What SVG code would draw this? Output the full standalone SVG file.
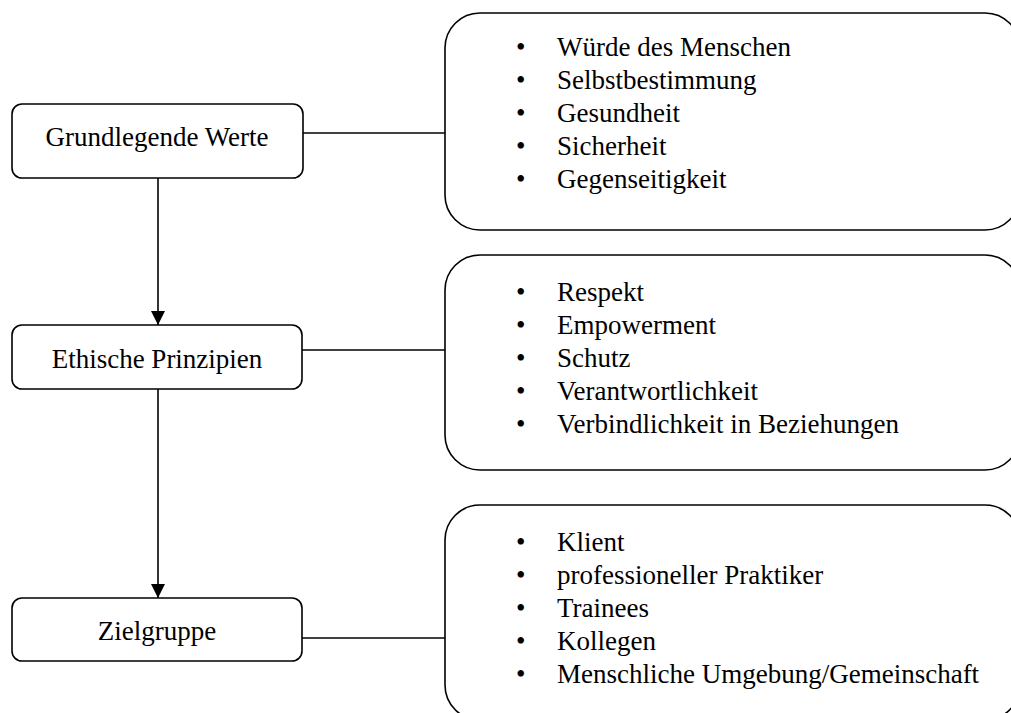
<svg xmlns="http://www.w3.org/2000/svg" width="1011" height="713" viewBox="0 0 1011 713">
<defs>
<style>
.box{fill:#fff;stroke:#000;stroke-width:1.6}
.t{font-family:"Liberation Serif","Times New Roman",serif;font-size:27px;fill:#000}
.c{text-anchor:middle}
.ln{stroke:#000;stroke-width:1.6;fill:none}
</style>
<marker id="ah" viewBox="0 0 14 15" refX="14" refY="7" markerWidth="14" markerHeight="15" markerUnits="userSpaceOnUse" orient="auto">
<path d="M0,0 L14,7 L0,14 Z" fill="#000"/>
</marker>
</defs>
<rect width="1011" height="713" fill="#fff"/>
<g id="connectors">
<line class="ln" x1="303" y1="133" x2="445" y2="133"/>
<line class="ln" x1="302" y1="350" x2="445" y2="350"/>
<line class="ln" x1="302" y1="638" x2="445" y2="638"/>
<line class="ln" x1="158" y1="178" x2="158" y2="325" marker-end="url(#ah)"/>
<line class="ln" x1="158" y1="389" x2="158" y2="598" marker-end="url(#ah)"/>
</g>
<g id="n-grundlegende">
<rect class="box" x="12" y="104" width="291" height="74" rx="10"/>
<text class="t c" x="157" y="146">Grundlegende Werte</text>
</g>
<g id="n-ethische">
<rect class="box" x="12" y="325" width="290" height="64" rx="10"/>
<text class="t c" x="157" y="368">Ethische Prinzipien</text>
</g>
<g id="n-zielgruppe">
<rect class="box" x="12" y="598" width="290" height="63" rx="10"/>
<text class="t c" x="157" y="640">Zielgruppe</text>
</g>
<g id="n-werte-liste">
<rect class="box" x="445" y="13" width="575" height="217" rx="35"/>
<text class="t" x="516" y="56">•</text><text class="t" x="557" y="56">Würde des Menschen</text>
<text class="t" x="516" y="89">•</text><text class="t" x="557" y="89">Selbstbestimmung</text>
<text class="t" x="516" y="122">•</text><text class="t" x="557" y="122">Gesundheit</text>
<text class="t" x="516" y="155">•</text><text class="t" x="557" y="155">Sicherheit</text>
<text class="t" x="516" y="188">•</text><text class="t" x="557" y="188">Gegenseitigkeit</text>
</g>
<g id="n-prinzipien-liste">
<rect class="box" x="445" y="255" width="575" height="215" rx="35"/>
<text class="t" x="516" y="301">•</text><text class="t" x="557" y="301">Respekt</text>
<text class="t" x="516" y="334">•</text><text class="t" x="557" y="334">Empowerment</text>
<text class="t" x="516" y="367">•</text><text class="t" x="557" y="367">Schutz</text>
<text class="t" x="516" y="400">•</text><text class="t" x="557" y="400">Verantwortlichkeit</text>
<text class="t" x="516" y="433">•</text><text class="t" x="557" y="433">Verbindlichkeit in Beziehungen</text>
</g>
<g id="n-zielgruppe-liste">
<rect class="box" x="445" y="505" width="575" height="215" rx="35"/>
<text class="t" x="516" y="551">•</text><text class="t" x="557" y="551">Klient</text>
<text class="t" x="516" y="584">•</text><text class="t" x="557" y="584">professioneller Praktiker</text>
<text class="t" x="516" y="617">•</text><text class="t" x="557" y="617">Trainees</text>
<text class="t" x="516" y="650">•</text><text class="t" x="557" y="650">Kollegen</text>
<text class="t" x="516" y="683">•</text><text class="t" x="557" y="683">Menschliche Umgebung/Gemeinschaft</text>
</g>
</svg>
